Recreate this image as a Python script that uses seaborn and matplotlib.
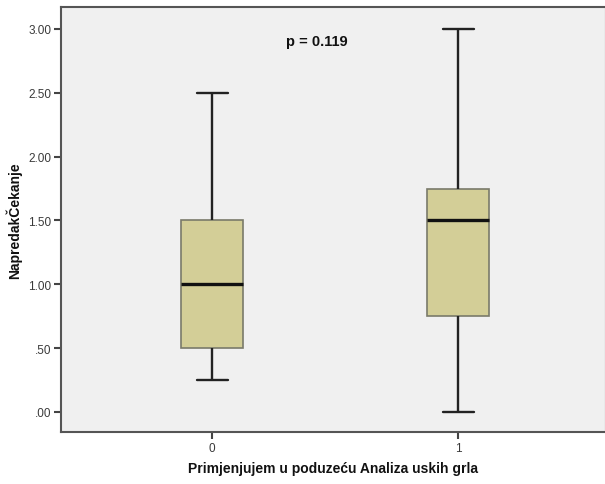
import matplotlib
matplotlib.use("Agg")
import matplotlib.pyplot as plt
import numpy as np
import pandas as pd
import seaborn as sns

# Values (five-number summary per group)
groups = ["0", "1"]
group0 = [0.25, 0.50, 1.00, 1.50, 2.50]
group1 = [0.00, 0.75, 1.50, 1.75, 3.00]
y_ticks = [0.0, 0.5, 1.0, 1.5, 2.0, 2.5, 3.0]
y_tick_labels = [".00", ".50", "1.00", "1.50", "2.00", "2.50", "3.00"]
p_text = "p = 0.119"


def main():
    sns.set_style("white")
    plt.rcParams["font.family"] = ["Liberation Sans", "DejaVu Sans"]

    df = pd.DataFrame(
        {
            "group": [groups[0]] * len(group0) + [groups[1]] * len(group1),
            "value": group0 + group1,
        }
    )

    fig = plt.figure(figsize=(6.05, 4.85), dpi=100)
    ax = fig.add_axes([61 / 605, 1 - 433 / 485, 545 / 605, 425 / 485])
    ax.set_facecolor("#f0f0f0")

    sns.boxplot(
        data=df, x="group", y="value", order=groups, ax=ax,
        width=0.252, color="#d3ce97", saturation=1, whis=1.5,
        linecolor="#2a2a2a", linewidth=1.6,
        boxprops=dict(edgecolor="#7a7a6a", linewidth=1.2),
        medianprops=dict(color="#111111", linewidth=2.4),
        whiskerprops=dict(color="#222222", linewidth=1.7),
        capprops=dict(color="#222222", linewidth=1.7),
        capwidths=0.126,
    )

    ax.set_xlim(-0.614, 1.60)
    ax.set_ylim(-0.157, 3.172)
    ax.set_yticks(y_ticks)
    ax.set_yticklabels(y_tick_labels)
    ax.tick_params(axis="both", bottom=True, left=True, length=5, width=1.5,
                   color="#444444", labelsize=8.5, labelcolor="#3a3a3a",
                   direction="out", pad=2)

    for side in ["left", "bottom", "top", "right"]:
        ax.spines[side].set_color("#555555")
        ax.spines[side].set_linewidth(1.5)

    ax.set_xlabel("Primjenjujem u poduzeću Analiza uskih grla",
                  fontsize=10, fontweight="bold", color="#111111", labelpad=5)
    ax.set_ylabel("NapredakČekanje", fontsize=10, fontweight="bold",
                  color="#111111", labelpad=4)

    ax.text(0.427, 2.906, p_text, fontsize=10.5, fontweight="bold",
            ha="center", va="center", color="#111111")

    fig.savefig("out.png", dpi=100)


if __name__ == "__main__":
    main()
